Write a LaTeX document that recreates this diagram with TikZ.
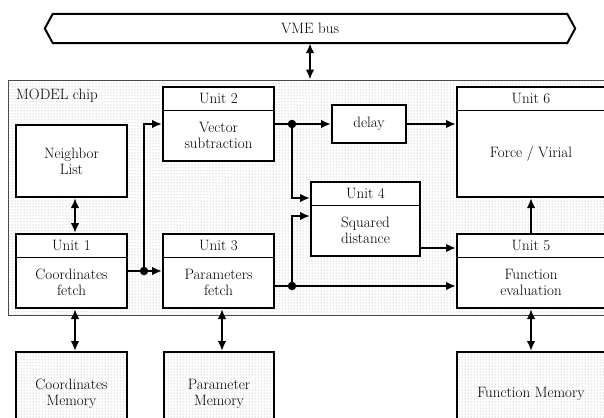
\documentclass[tikz,border=0pt]{standalone}
\usetikzlibrary{arrows.meta,patterns}
\begin{document}
\begin{tikzpicture}[x=1pt,y=-1pt,
  box/.style={draw, line width=2pt, fill=white, inner sep=0pt},
  membox/.style={draw, line width=2pt, pattern=dots, pattern color=black!38, inner sep=0pt},
  lbl/.style={font=\fontsize{15}{16}\selectfont, align=center, inner sep=0pt},
  arr/.style={line width=2.6pt, -{Latex[length=10pt,width=8.5pt]}},
  darr/.style={line width=2.6pt, {Latex[length=10pt,width=8.5pt]}-{Latex[length=10pt,width=8.5pt]}},
  sepline/.style={line width=1pt},
  junct/.style={circle, fill, inner sep=0pt, minimum size=8.5pt}
]
\useasboundingbox (0,0) rectangle (604,417);

% chip background
\node[draw=black!70, line width=0.8pt, pattern=dots, pattern color=black!38,
      minimum width=612pt, minimum height=235pt, inner sep=0pt] (chip) at (314,197.5) {};
\node[lbl, anchor=base west] (chiplbl) at (16,99.3) {MODEL chip};

% VME bus
\node[lbl, minimum width=530pt, minimum height=29pt] (bus) at (310,28.5) {VME bus};
\draw[line width=2pt, line join=miter] (bus.west) -- ([xshift=8pt]bus.north west) -- ([xshift=-8pt]bus.north east)
  -- (bus.east) -- ([xshift=-8pt]bus.south east) -- ([xshift=8pt]bus.south west) -- cycle;

% Neighbor list
\node[box, minimum width=111pt, minimum height=72pt] (nl) at (71.5,161) {};
\node[lbl] (nlt) at (71.5,161) {Neighbor\\List};

% Unit 1
\node[box, minimum width=111pt, minimum height=74pt] (u1) at (71.5,271) {};
\draw[sepline] (16,257) -- (127,257);
\node[lbl] (u1h) at (71.5,245.5) {Unit 1};
\node[lbl] (u1b) at (71.5,282.5) {Coordinates\\fetch};

% Unit 2
\node[box, minimum width=111pt, minimum height=74pt] (u2) at (218.5,124) {};
\draw[sepline] (163,110) -- (274,110);
\node[lbl] (u2h) at (218.5,98.5) {Unit 2};
\node[lbl] (u2b) at (218.5,135.5) {Vector\\subtraction};

% Unit 3
\node[box, minimum width=111pt, minimum height=74pt] (u3) at (218.5,271) {};
\draw[sepline] (163,257) -- (274,257);
\node[lbl] (u3h) at (218.5,245.5) {Unit 3};
\node[lbl] (u3b) at (218.5,282.5) {Parameters\\fetch};

% delay
\node[box, minimum width=74pt, minimum height=37pt] (delay) at (369,124) {};
\node[lbl] (delayt) at (369,124) {delay};

% Unit 4
\node[box, minimum width=109pt, minimum height=74pt] (u4) at (365.5,219) {};
\draw[sepline] (311,205) -- (420,205);
\node[lbl] (u4h) at (365.5,193.5) {Unit 4};
\node[lbl] (u4b) at (365.5,230.5) {Squared\\distance};

% Unit 5
\node[box, minimum width=148pt, minimum height=74pt] (u5) at (531,271) {};
\draw[sepline] (457,257) -- (605,257);
\node[lbl] (u5h) at (531,245.5) {Unit 5};
\node[lbl] (u5b) at (531,282.5) {Function\\evaluation};

% Unit 6
\node[box, minimum width=148pt, minimum height=110pt] (u6) at (531,142) {};
\draw[sepline] (457,110) -- (605,110);
\node[lbl] (u6h) at (531,98.5) {Unit 6};
\node[lbl] (u6b) at (531,153.5) {Force / Virial};

% memories
\node[membox, minimum width=111pt, minimum height=83pt] (cm) at (71.5,393.5) {};
\node[lbl] (cmt) at (71.5,393.5) {Coordinates\\Memory};
\node[membox, minimum width=110pt, minimum height=83pt] (pm) at (219,393.5) {};
\node[lbl] (pmt) at (219,393.5) {Parameter\\Memory};
\node[membox, minimum width=148pt, minimum height=83pt] (fm) at (531,393.5) {};
\node[lbl] (fmt) at (531,393.5) {Function Memory};

% junctions
\coordinate (jA) at (144,271);
\coordinate (jB) at (292,124);
\coordinate (jC) at (292,286);
\coordinate (u4o) at ([yshift=-29pt]u4.east);

% connectors
\draw[darr] (bus.south) -- (bus.south |- chip.north);
\draw[darr] ([xshift=3.5pt]nl.south) -- ([xshift=3.5pt]u1.north);
\draw[arr] (u1.east) -- (u3.west);
\draw[arr] (jA) |- (u2.west);
\draw[arr] (u2.east) -- (delay.west);
\draw[arr] (jB) |- ([yshift=21pt]u4.west);
\draw[arr] (delay.east) -- (delay.east -| u6.west);
\draw[arr] (jC -| u3.east) -- (jC -| u5.west);
\draw[arr] (jC) |- ([yshift=3pt]u4.west);
\draw[arr] (u4o) -- (u4o -| u5.west);
\draw[arr] (u5.north) -- (u6.south);
\draw[darr] ([xshift=3.5pt]u1.south) -- ([xshift=3.5pt]cm.north);
\draw[darr] ([xshift=3.5pt]u3.south) -- ([xshift=3pt]pm.north);
\draw[darr] (u5.south) -- (fm.north);

\node[junct] (dA) at (jA) {};
\node[junct] (dB) at (jB) {};
\node[junct] (dC) at (jC) {};
\end{tikzpicture}
\end{document}
